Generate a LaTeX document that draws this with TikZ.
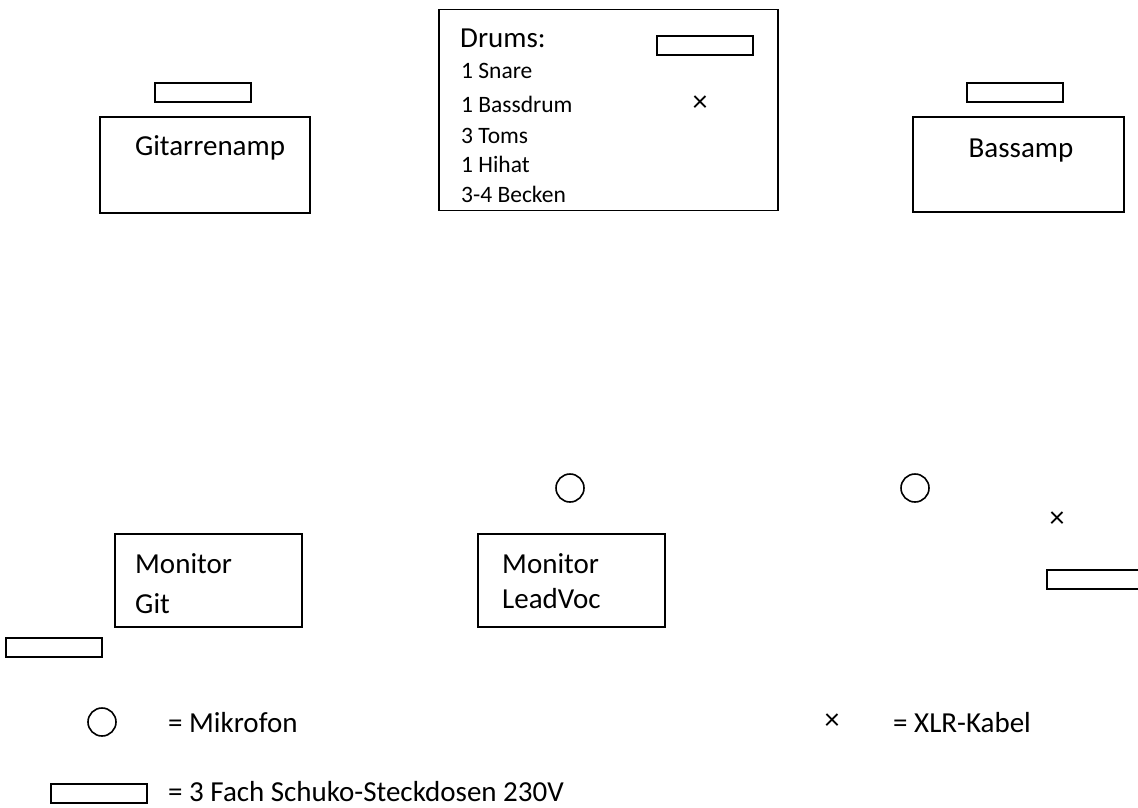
\documentclass[tikz,border=0pt]{standalone}
\usepackage{fontspec}
\setmainfont{Carlito}
\begin{document}
\begin{tikzpicture}[x=1pt,y=-1pt,
  box/.style={draw, line width=1.8pt, inner sep=0pt},
  outlet/.style={draw, line width=2pt, inner sep=0pt, minimum width=96pt, minimum height=19pt},
  mic/.style={draw, circle, line width=1.6pt, inner sep=0pt, minimum size=28pt},
  xlr/.style={inner sep=0pt, font=\fontsize{30}{30}\selectfont},
  big/.style={inner sep=0pt, font=\fontsize{29}{29}\selectfont},
  small/.style={inner sep=0pt, anchor=base west, font=\fontsize{23.5}{23.5}\selectfont}]
\useasboundingbox (0,0) rectangle (1138,807);
% Drums
\node[box, minimum width=339pt, minimum height=201pt] (drums) at (608.5,110) {};
\node[big, anchor=base west] (drumst) at (460,47) {Drums:};
\node[small] (d1) at (461,78) {1 Snare};
\node[small] (d2) at (461,112) {1 Bassdrum};
\node[small] (d3) at (461,143) {3 Toms};
\node[small] (d4) at (461,172) {1 Hihat};
\node[small] (d5) at (461,202) {3-4 Becken};
\node[outlet] (odrums) at (704.5,45) {};
\node[xlr] (xdrums) at (700,104) {×};
% Gitarrenamp
\node[outlet] (ogit) at (202.5,92) {};
\node[box, minimum width=210pt, minimum height=96pt] (gamp) at (205,165) {};
\node[big, anchor=base] (gampt) at (210,155) {Gitarrenamp};
% Bassamp
\node[outlet] (obass) at (1014.5,92) {};
\node[box, minimum width=211pt, minimum height=95pt] (bamp) at (1018.5,164.5) {};
\node[big, anchor=base] (bampt) at (1021,157) {Bassamp};
% Monitors
\node[box, minimum width=187pt, minimum height=93pt] (mgit) at (208.5,580.5) {};
\node[big, anchor=base west] (mgit1) at (135,573) {Monitor};
\node[big, anchor=base west] (mgit2) at (135,613) {Git};
\node[box, minimum width=187pt, minimum height=93pt] (mlv) at (571.5,580.5) {};
\node[big, anchor=base west] (mlv1) at (502,573) {Monitor};
\node[big, anchor=base west] (mlv2) at (502,608) {LeadVoc};
\node[outlet] (ogitmon) at (54,647) {};
% Mics and right side
\node[mic] (mic1) at (570,488) {};
\node[mic] (mic2) at (915,488) {};
\node[xlr] (xright) at (1057,520) {×};
\node[outlet] (oright) at (1095,579) {};
% Legend
\node[mic] (lmic) at (102,722) {};
\node[big, anchor=base west] (lmict) at (168,732) {= Mikrofon};
\node[xlr] (lxlr) at (832,722) {×};
\node[big, anchor=base west] (lxlrt) at (893,732) {= XLR-Kabel};
\node[outlet] (lout) at (99,793.5) {};
\node[big, anchor=base west, text depth=0pt] (loutt) at (168,801) {= 3 Fach Schuko-Steckdosen 230V};
\end{tikzpicture}
\end{document}
